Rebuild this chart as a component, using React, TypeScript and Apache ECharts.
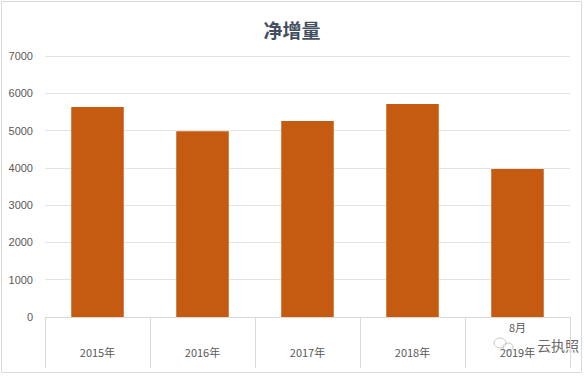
import React, { useEffect, useRef } from "react";
import * as echarts from "echarts";

const categories = ["2015年", "2016年", "2017年", "2018年", "8月\n2019年"];
const values = [5630, 4980, 5255, 5710, 3970];
const yTicks = [0, 1000, 2000, 3000, 4000, 5000, 6000, 7000];
const titleText = "净增量";
const watermark = "云执照";

export default function App() {
  const ref = useRef<HTMLDivElement>(null);
  useEffect(() => {
    document.body.style.margin = "0";
    const chart = echarts.init(ref.current!, undefined, { renderer: "svg" });
    chart.setOption({
      animation: false,
      backgroundColor: "#ffffff",
      title: {
        text: titleText,
        left: "center",
        top: 15,
        textStyle: {
          fontFamily: "Noto Sans CJK SC",
          fontSize: 19,
          fontWeight: "bold",
          color: "#44505f",
        },
      },
      grid: { left: 45, right: 14, top: 56, bottom: 59 },
      xAxis: {
        type: "category",
        data: categories,
        axisLine: { show: true, lineStyle: { color: "#d9d9d9", width: 1 } },
        axisTick: { show: true, length: 51, lineStyle: { color: "#d9d9d9" } },
        axisLabel: {
          interval: 0,
          margin: 47,
          verticalAlign: "bottom",
          lineHeight: 25,
          fontSize: 11,
          color: "#595959",
          fontFamily: "Noto Sans CJK SC",
        },
      },
      yAxis: {
        type: "value",
        min: yTicks[0],
        max: yTicks[yTicks.length - 1],
        interval: 1000,
        axisLine: { show: false },
        axisTick: { show: false },
        axisLabel: {
          margin: 12,
          fontSize: 11,
          color: "#595959",
          fontFamily: "Liberation Sans",
          formatter: (v: number) => String(v),
        },
        splitLine: { lineStyle: { color: "#e3e3e3", width: 1 } },
      },
      series: [
        {
          type: "bar",
          data: values,
          barWidth: "50%",
          itemStyle: { color: "#c55a11" },
        },
      ],
      graphic: [
        {
          type: "rect",
          shape: { x: 1.5, y: 1.5, width: 580, height: 371 },
          style: { fill: "none", stroke: "#d9d9d9", lineWidth: 1 },
          silent: true,
        },
        {
          type: "ellipse",
          shape: { cx: 500, cy: 343, rx: 6, ry: 5 },
          style: { fill: "none", stroke: "#c8c8c8", lineWidth: 1 },
          silent: true,
        },
        {
          type: "ellipse",
          shape: { cx: 508, cy: 347, rx: 5, ry: 4 },
          style: { fill: "none", stroke: "#c8c8c8", lineWidth: 1 },
          silent: true,
        },
        {
          type: "text",
          x: 537,
          y: 345,
          style: {
            text: watermark,
            fontSize: 14,
            fill: "#6a6a6a",
            fontFamily: "Noto Sans CJK SC",
            verticalAlign: "middle",
          },
          silent: true,
        },
      ],
    });
    return () => chart.dispose();
  }, []);
  return <div ref={ref} style={{ width: 584, height: 376 }} />;
}
